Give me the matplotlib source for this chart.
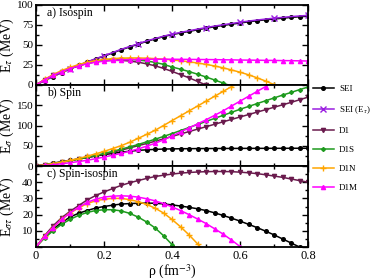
import numpy as np
import matplotlib
matplotlib.use('Agg')
import matplotlib.pyplot as plt
from matplotlib.ticker import MultipleLocator

plt.rcParams['font.family'] = ['Liberation Serif', 'DejaVu Serif']
plt.rcParams['mathtext.fontset'] = 'stix'

# density grid (fm^-3)
rho = [0, .025, .05, .075, .1, .125, .15, .175, .2, .225, .25, .275, .3, .325, .35, .375,
       .4, .425, .45, .475, .5, .525, .55, .575, .6, .625, .65, .675, .7, .725, .75, .775, .8]

# a) isospin
sei_a = [0, 5.5, 10.5, 15.5, 20, 24.5, 28.5, 32.5, 36, 40, 44, 47.5, 51, 54.5, 57.5, 60.5,
         63, 65, 67, 69, 71, 72.8, 74.5, 76, 77.5, 79, 80.3, 81.5, 82.5, 83.5, 84.5, 85.3, 86]
seit_a = [0, 5.5, 10.5, 15.5, 20, 24.5, 28.7, 32.8, 36.5, 40.5, 44.5, 48, 51.5, 55, 58, 61,
          63.6, 65.7, 67.8, 69.8, 71.8, 73.6, 75.3, 76.9, 78.4, 79.9, 81.2, 82.4, 83.5, 84.5, 85.5, 86.3, 87]
d1_a = [0, 6.5, 12, 16.5, 20.5, 24, 27, 29, 30.3, 30.8, 30.8, 30, 28.5, 26.5, 24, 20.8,
        17, 13, 9, 4.5, 0, -5]
d1s_a = [0, 6.5, 12, 16.5, 20.5, 24, 27, 29.2, 30.8, 31.8, 32.2, 32, 31.3, 30, 28.3, 25.8,
         22.5, 19.8, 16.8, 13.5, 10, 6.3, 2.5, -1.5]
d1n_a = [0, 7, 13, 18, 22, 25.5, 28.3, 30.5, 32, 33, 33.6, 33.8, 33.8, 33.5, 33, 32.3,
         31.4, 30.3, 29, 27.5, 25.8, 23.8, 21.5, 18.8, 16, 12.8, 9, 5, 0.5, -4]
d1m_a = [0, 6.5, 12, 16.5, 20.5, 23.8, 26.5, 28.5, 29.8, 30.7, 31.3, 31.7, 32, 32.1, 32.2, 32.2,
         32.2, 32.1, 32, 31.9, 31.8, 31.7, 31.5, 31.4, 31.2, 31.1, 31, 30.8, 30.7, 30.5, 30.4, 30.2, 30]

# b) spin
sei_b = [0, 3.5, 7, 10.5, 14, 17.5, 21, 24.5, 28, 31, 34, 36.5, 38.5, 40, 41, 41.8,
         42.3, 42.6, 42.8, 43, 43.1, 43.2, 43.3, 43.4, 43.5, 43.5, 43.6, 43.6, 43.7, 43.7, 43.8, 43.8, 43.8]
d1_b = [0, 3, 6, 9.5, 13, 17, 21, 25, 29.5, 34, 39, 44.5, 50, 55.5, 61, 67,
        73, 79, 85, 91, 97, 103, 109, 115, 121, 127, 133, 139, 145, 151, 157, 163.5, 170]
d1s_b = [0, 3, 6, 9.5, 13, 17, 21.5, 26, 31, 36, 41.5, 47, 53, 59.5, 66, 73,
         80, 87.5, 95, 102.5, 110, 117.5, 125, 132.5, 140, 147, 154, 161, 168, 175, 181.5, 188.5, 195]
d1n_b = [0, 3, 6, 9.5, 14, 18.5, 24, 30, 36, 43, 50, 58.5, 68, 78, 88, 100,
         112, 124, 136, 148, 160, 172, 184, 196, 208]
d1m_b = [0, 1.5, 3, 5.5, 8, 11, 14, 18, 22, 26.5, 31, 36.5, 42, 49, 56, 64.5,
         74, 84, 94, 104, 114, 125, 136, 148, 160, 172, 184, 196, 208]

# c) spin-isospin
sei_c = [0, 6, 11, 15, 18.5, 20.8, 22.5, 24, 25, 25.8, 26.5, 26.8, 27, 27.1, 27, 26.6,
         26, 25.3, 24.5, 23.6, 22.5, 21.1, 19.5, 17.8, 16, 14, 12, 9.8, 7.5, 5, 2.5, 0]
d1_c = [0, 7, 13, 18, 22, 25.5, 29, 31.7, 34, 36, 38, 39.6, 41, 42.3, 43.5, 44.3,
        45, 45.6, 46, 46.3, 46.5, 46.6, 46.6, 46.5, 46.2, 45.8, 45.3, 44.6, 43.8, 43, 42, 41, 40]
d1s_c = [0, 5.5, 10, 14, 17, 19.5, 21.3, 22.5, 23, 23, 22.3, 20.8, 18.5, 15.5, 11.8, 7,
         1.5, -4]
d1n_c = [0, 6.5, 12, 17, 21, 24, 26.8, 28.5, 29.5, 30, 30, 29.3, 28, 26.3, 24, 21,
         17, 12.5, 7.5, 2, -4]
d1m_c = [0, 6.5, 12, 17, 21, 24.5, 27.5, 29.5, 30.8, 31.4, 31.6, 31.4, 30.8, 29.8, 28.5, 26.8,
         24.8, 22.5, 20, 17.3, 14.5, 11.3, 8, 4.3, 0.3, -4]

styles = {
    'SEI': dict(color='black', marker='o', ms=2.6),
    'SEI (E$_\\tau$)': dict(color='#9a1ee0', marker='x', ms=4.5, markevery=4),
    'D1': dict(color='#6a1b4d', marker='v', ms=3),
    'D1S': dict(color='#1e9a1e', marker='D', ms=2),
    'D1N': dict(color='#ffa500', marker='+', ms=5),
    'D1M': dict(color='#ff00ff', marker='^', ms=3),
}

def curve(ax, y, name):
    ax.plot(rho[:len(y)], y, lw=1.1, label=name, **styles[name])

fig = plt.figure(figsize=(3.74, 2.8), dpi=100)
L, W = 36 / 374, 272 / 374
axa = fig.add_axes([L, 1 - 85 / 280, W, 80 / 280])
axb = fig.add_axes([L, 1 - 166 / 280, W, 81 / 280])
axc = fig.add_axes([L, 1 - 247 / 280, W, 81 / 280])

curve(axa, sei_a, 'SEI')
curve(axa, seit_a, 'SEI (E$_\\tau$)')
curve(axa, d1_a, 'D1')
curve(axa, d1s_a, 'D1S')
curve(axa, d1n_a, 'D1N')
curve(axa, d1m_a, 'D1M')

curve(axb, sei_b, 'SEI')
curve(axb, d1_b, 'D1')
curve(axb, d1s_b, 'D1S')
curve(axb, d1n_b, 'D1N')
curve(axb, d1m_b, 'D1M')

curve(axc, sei_c, 'SEI')
curve(axc, d1_c, 'D1')
curve(axc, d1s_c, 'D1S')
curve(axc, d1n_c, 'D1N')
curve(axc, d1m_c, 'D1M')

axa.set_ylim(0, 100)
axa.set_yticks([0, 25, 50, 75, 100])
axa.yaxis.set_minor_locator(MultipleLocator(12.5))
axb.set_ylim(0, 200)
axb.set_yticks([0, 50, 100, 150, 200], ['0', '50', '100', '150', ''])
axb.yaxis.set_minor_locator(MultipleLocator(25))
axc.set_ylim(0, 50)
axc.set_yticks([0, 10, 20, 30, 40, 50], ['', '10', '20', '30', '40', ''])
axc.yaxis.set_minor_locator(MultipleLocator(5))

for ax in (axa, axb, axc):
    ax.set_xlim(0, 0.8)
    ax.xaxis.set_major_locator(MultipleLocator(0.2))
    ax.xaxis.set_minor_locator(MultipleLocator(0.1))
    ax.tick_params(which='both', direction='in', top=True, right=True, width=1, labelsize=8, pad=2)
    ax.tick_params(which='major', length=4.5)
    ax.tick_params(which='minor', length=2.5)
    for s in ax.spines.values():
        s.set_linewidth(1.3)
axa.tick_params(labelbottom=False)
axb.tick_params(labelbottom=False)
axc.set_xticks([0, 0.2, 0.4, 0.6, 0.8], ['0', '0.2', '0.4', '0.6', '0.8'])
axc.tick_params(axis='x', labelsize=9)

axa.set_ylabel('E$_\\tau$ (MeV)', fontsize=10)
axb.set_ylabel('E$_\\sigma$ (MeV)', fontsize=10)
axc.set_ylabel('E$_{\\sigma\\tau}$ (MeV)', fontsize=10)
for ax in (axa, axb, axc):
    ax.yaxis.set_label_coords(-20 / 272, 0.5)
axc.set_xlabel('ρ (fm$^{-3}$)', fontsize=10, labelpad=1)

axa.text(0.04, 0.86, 'a) Isospin', transform=axa.transAxes, fontsize=8.5)
axb.text(0.04, 0.86, 'b) Spin', transform=axb.transAxes, fontsize=8.5)
axc.text(0.04, 0.86, 'c) Spin-isospin', transform=axc.transAxes, fontsize=8.5)

handles, labels = axa.get_legend_handles_labels()
fig.legend(handles, labels, loc='upper left', bbox_to_anchor=(313 / 374, 1 - 85 / 280),
           frameon=False, fontsize=6.5, handlelength=2.3, labelspacing=1.2,
           handletextpad=0.6, borderpad=0, borderaxespad=0)

fig.savefig('out.png', dpi=100)
